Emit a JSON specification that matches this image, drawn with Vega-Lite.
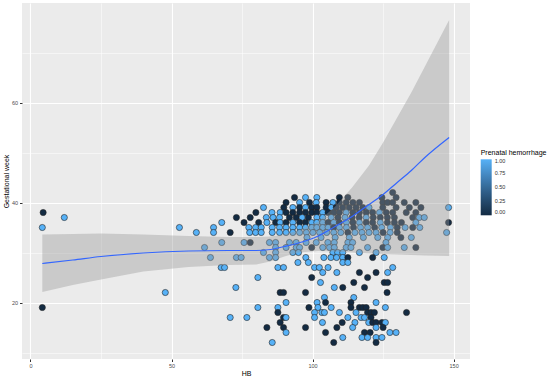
{
"$schema":"https://vega.github.io/schema/vega-lite/v6.json",
"width":448,"height":356,
"autosize":{"type":"none"},
"padding":{"left":22,"top":3,"right":84,"bottom":22},
"background":"white",
"config":{"font":"Liberation Sans","view":{"fill":"#EBEBEB","stroke":null},
"axis":{"domain":false,"labelColor":"#4D4D4D","labelFontSize":5.5,"tickColor":"#333333","gridColor":"#FFFFFF","titleFontWeight":"normal","titleFontSize":7,"titleColor":"#000000","labelFlush":false,"labelOverlap":false}},
"datasets":{
"fit":[
{"HB":4.2,"fit":27.8,"lo":22.1,"hi":33.6},{"HB":15,"fit":28.5,"lo":23.5,"hi":33.7},{"HB":25,"fit":29.2,"lo":24.6,"hi":33.8},{"HB":40,"fit":29.9,"lo":26.2,"hi":33.6},{"HB":56,"fit":30.3,"lo":27.1,"hi":33.3},{"HB":70,"fit":30.4,"lo":27.5,"hi":33.1},{"HB":80,"fit":30.4,"lo":27.6,"hi":33.1},{"HB":85,"fit":30.6,"lo":28.2,"hi":33.2},{"HB":90,"fit":31.2,"lo":29.2,"hi":33.6},{"HB":95,"fit":31.9,"lo":30.0,"hi":34.4},{"HB":102,"fit":33.3,"lo":30.3,"hi":36.2},{"HB":108,"fit":35.2,"lo":30.2,"hi":39.2},{"HB":114,"fit":37.2,"lo":30.0,"hi":43.0},{"HB":120,"fit":39.6,"lo":29.8,"hi":47.4},{"HB":125,"fit":41.6,"lo":29.7,"hi":52.0},{"HB":130,"fit":44.0,"lo":29.6,"hi":57.0},{"HB":135,"fit":46.4,"lo":29.5,"hi":62.0},{"HB":140,"fit":49.1,"lo":29.4,"hi":67.4},{"HB":148.4,"fit":53.0,"lo":29.3,"hi":76.5}
],
"pts":[
{"HB":4.5,"GW":38,"P":0},{"HB":4.2,"GW":35,"P":1},{"HB":12,"GW":37,"P":1},{"HB":47.8,"GW":22,"P":1},{"HB":4.2,"GW":19,"P":0},{"HB":52.8,"GW":35,"P":1},
{"HB":128.4,"GW":42,"P":0},
{"HB":93.6,"GW":41,"P":0},{"HB":97.5,"GW":41,"P":1},{"HB":101.5,"GW":41,"P":1},{"HB":109.5,"GW":41,"P":0},{"HB":112.5,"GW":41,"P":0},{"HB":124.6,"GW":41,"P":0},{"HB":129.6,"GW":41,"P":0},
{"HB":90.6,"GW":40,"P":0},{"HB":95.4,"GW":40,"P":1},{"HB":98.9,"GW":40,"P":0},{"HB":101.3,"GW":40,"P":1},{"HB":104.8,"GW":40,"P":0},{"HB":107.2,"GW":40,"P":1},{"HB":109.5,"GW":40,"P":0},{"HB":111.9,"GW":40,"P":0},{"HB":114.3,"GW":40,"P":0},{"HB":116.6,"GW":40,"P":0},{"HB":124.9,"GW":40,"P":0},{"HB":126.6,"GW":40,"P":0},{"HB":128.4,"GW":40,"P":0},{"HB":132.5,"GW":40,"P":0},{"HB":136.6,"GW":40,"P":0},
{"HB":82.6,"GW":39,"P":1},{"HB":89.8,"GW":39,"P":0},{"HB":93,"GW":39,"P":1},{"HB":95.4,"GW":39,"P":0},{"HB":97.5,"GW":39,"P":1},{"HB":99.7,"GW":39,"P":0},{"HB":101.5,"GW":39,"P":0},{"HB":104.8,"GW":39,"P":0},{"HB":106.6,"GW":39,"P":1},{"HB":108.4,"GW":39,"P":0},{"HB":110.7,"GW":39,"P":0},{"HB":113,"GW":39,"P":0},{"HB":115.4,"GW":39,"P":0},{"HB":117.8,"GW":39,"P":0},{"HB":120,"GW":39,"P":1},{"HB":124.9,"GW":39,"P":0},{"HB":129.6,"GW":39,"P":0},{"HB":134.3,"GW":39,"P":0},{"HB":138.4,"GW":39,"P":0},{"HB":148.2,"GW":39,"P":1},
{"HB":79.9,"GW":38,"P":0},{"HB":85.6,"GW":38,"P":1},{"HB":88.5,"GW":38,"P":1},{"HB":90.6,"GW":38,"P":0},{"HB":93,"GW":38,"P":0},{"HB":95.4,"GW":38,"P":0},{"HB":97.5,"GW":38,"P":0},{"HB":99.7,"GW":38,"P":0},{"HB":101.5,"GW":38,"P":0},{"HB":103.6,"GW":38,"P":1},{"HB":105.5,"GW":38,"P":0},{"HB":107.5,"GW":38,"P":0},{"HB":109.5,"GW":38,"P":0},{"HB":111.9,"GW":38,"P":1},{"HB":114.3,"GW":38,"P":0},{"HB":116.6,"GW":38,"P":0},{"HB":119,"GW":38,"P":0},{"HB":121.3,"GW":38,"P":0},{"HB":123.7,"GW":38,"P":1},{"HB":126.1,"GW":38,"P":0},{"HB":128.4,"GW":38,"P":0},{"HB":133.2,"GW":38,"P":0},{"HB":136.6,"GW":38,"P":0},
{"HB":73,"GW":37,"P":0},{"HB":77.9,"GW":37,"P":0},{"HB":83.6,"GW":37,"P":1},{"HB":86,"GW":37,"P":1},{"HB":88.3,"GW":37,"P":1},{"HB":91.8,"GW":37,"P":0},{"HB":94.2,"GW":37,"P":0},{"HB":96.3,"GW":37,"P":1},{"HB":98.5,"GW":37,"P":0},{"HB":101.5,"GW":37,"P":1},{"HB":103.6,"GW":37,"P":1},{"HB":106.6,"GW":37,"P":1},{"HB":109,"GW":37,"P":0},{"HB":111.5,"GW":37,"P":1},{"HB":114,"GW":37,"P":0},{"HB":116.5,"GW":37,"P":0},{"HB":119,"GW":37,"P":1},{"HB":121.5,"GW":37,"P":0},{"HB":124,"GW":37,"P":0},{"HB":126.5,"GW":37,"P":0},{"HB":129,"GW":37,"P":0},{"HB":135.5,"GW":37,"P":0},{"HB":137.8,"GW":37,"P":1},{"HB":139.6,"GW":37,"P":1},
{"HB":67.8,"GW":36,"P":1},{"HB":75.7,"GW":36,"P":0},{"HB":80.9,"GW":36,"P":0},{"HB":83.8,"GW":36,"P":1},{"HB":86.9,"GW":36,"P":0},{"HB":88.5,"GW":36,"P":1},{"HB":90.6,"GW":36,"P":0},{"HB":93,"GW":36,"P":1},{"HB":95.4,"GW":36,"P":0},{"HB":97.5,"GW":36,"P":0},{"HB":99.7,"GW":36,"P":1},{"HB":101.5,"GW":36,"P":1},{"HB":103.6,"GW":36,"P":1},{"HB":105.5,"GW":36,"P":0},{"HB":107.5,"GW":36,"P":1},{"HB":109.5,"GW":36,"P":0},{"HB":112,"GW":36,"P":1},{"HB":114.3,"GW":36,"P":0},{"HB":116.6,"GW":36,"P":1},{"HB":119,"GW":36,"P":0},{"HB":121.3,"GW":36,"P":0},{"HB":124,"GW":36,"P":1},{"HB":126.5,"GW":36,"P":0},{"HB":129,"GW":36,"P":0},{"HB":131.5,"GW":36,"P":0},{"HB":136.6,"GW":36,"P":1},{"HB":148.2,"GW":36,"P":0},
{"HB":64.9,"GW":35,"P":1},{"HB":77.4,"GW":35,"P":1},{"HB":79.8,"GW":35,"P":1},{"HB":81.8,"GW":35,"P":1},{"HB":85.7,"GW":35,"P":1},{"HB":88.3,"GW":35,"P":1},{"HB":90.6,"GW":35,"P":1},{"HB":93,"GW":35,"P":1},{"HB":95.4,"GW":35,"P":1},{"HB":97.5,"GW":35,"P":1},{"HB":99.7,"GW":35,"P":1},{"HB":101.5,"GW":35,"P":1},{"HB":103.6,"GW":35,"P":1},{"HB":105.5,"GW":35,"P":1},{"HB":107.5,"GW":35,"P":0},{"HB":109.5,"GW":35,"P":1},{"HB":112,"GW":35,"P":1},{"HB":114.5,"GW":35,"P":0},{"HB":117,"GW":35,"P":1},{"HB":119.5,"GW":35,"P":1},{"HB":122,"GW":35,"P":0},{"HB":124.5,"GW":35,"P":1},{"HB":127.6,"GW":35,"P":1},{"HB":130,"GW":35,"P":0},{"HB":132.8,"GW":35,"P":1},{"HB":135.5,"GW":35,"P":0},{"HB":138,"GW":35,"P":1},
{"HB":58.8,"GW":34,"P":1},{"HB":64.9,"GW":34,"P":1},{"HB":70.8,"GW":34,"P":0},{"HB":77.7,"GW":34,"P":1},{"HB":79.8,"GW":34,"P":1},{"HB":81.8,"GW":34,"P":1},{"HB":85.7,"GW":34,"P":1},{"HB":88.3,"GW":34,"P":1},{"HB":90.6,"GW":34,"P":1},{"HB":93,"GW":34,"P":1},{"HB":95.4,"GW":34,"P":1},{"HB":97.8,"GW":34,"P":1},{"HB":100.1,"GW":34,"P":1},{"HB":102.5,"GW":34,"P":1},{"HB":105,"GW":34,"P":1},{"HB":107.5,"GW":34,"P":1},{"HB":110,"GW":34,"P":1},{"HB":112.5,"GW":34,"P":0},{"HB":115,"GW":34,"P":1},{"HB":117.5,"GW":34,"P":1},{"HB":120,"GW":34,"P":1},{"HB":122.5,"GW":34,"P":1},{"HB":125,"GW":34,"P":0},{"HB":127.5,"GW":34,"P":1},{"HB":130,"GW":34,"P":0},{"HB":147.5,"GW":34,"P":1},
{"HB":98,"GW":33,"P":1},{"HB":103,"GW":33,"P":1},{"HB":108,"GW":33,"P":1},{"HB":113,"GW":33,"P":1},{"HB":118,"GW":33,"P":1},{"HB":123.1,"GW":33,"P":1},{"HB":126.6,"GW":33,"P":1},{"HB":131.3,"GW":33,"P":0},{"HB":135,"GW":33,"P":1},
{"HB":67.8,"GW":32,"P":1},{"HB":75.7,"GW":32,"P":1},{"HB":77.9,"GW":32,"P":0},{"HB":84.7,"GW":32,"P":1},{"HB":86.9,"GW":32,"P":1},{"HB":91.8,"GW":32,"P":1},{"HB":94.2,"GW":32,"P":1},{"HB":97.7,"GW":32,"P":1},{"HB":101.3,"GW":32,"P":1},{"HB":105.4,"GW":32,"P":1},{"HB":107.7,"GW":32,"P":1},{"HB":112.5,"GW":32,"P":1},{"HB":114.2,"GW":32,"P":1},{"HB":126,"GW":32,"P":1},
{"HB":61.7,"GW":31,"P":1},{"HB":86.9,"GW":31,"P":1},{"HB":90.6,"GW":31,"P":1},{"HB":94.2,"GW":31,"P":1},{"HB":95.4,"GW":31,"P":1},{"HB":99.7,"GW":31,"P":0},{"HB":103.6,"GW":31,"P":1},{"HB":106,"GW":31,"P":1},{"HB":107.7,"GW":31,"P":1},{"HB":111.9,"GW":31,"P":1},{"HB":113.6,"GW":31,"P":1},{"HB":119.5,"GW":31,"P":1},{"HB":124.9,"GW":31,"P":0},{"HB":126.6,"GW":31,"P":1},{"HB":132.5,"GW":31,"P":1},{"HB":136.6,"GW":31,"P":0},
{"HB":82.6,"GW":30,"P":1},{"HB":86.9,"GW":30,"P":1},{"HB":93,"GW":30,"P":1},{"HB":95,"GW":30,"P":1},{"HB":107.2,"GW":30,"P":1},{"HB":108.9,"GW":30,"P":1},{"HB":110.7,"GW":30,"P":1},{"HB":116.6,"GW":30,"P":1},{"HB":122.5,"GW":30,"P":1},
{"HB":63.8,"GW":29,"P":1},{"HB":73,"GW":29,"P":1},{"HB":74.7,"GW":29,"P":1},{"HB":84.7,"GW":29,"P":1},{"HB":86.9,"GW":29,"P":1},{"HB":97.6,"GW":29,"P":1},{"HB":104,"GW":29,"P":1},{"HB":106.5,"GW":29,"P":1},{"HB":108.5,"GW":29,"P":1},{"HB":110.7,"GW":29,"P":1},{"HB":112.5,"GW":29,"P":0},{"HB":121.3,"GW":29,"P":0},{"HB":125.4,"GW":29,"P":1},
{"HB":94.8,"GW":28,"P":1},{"HB":98.5,"GW":28,"P":1},{"HB":110.7,"GW":28,"P":1},{"HB":112.5,"GW":28,"P":1},
{"HB":67.6,"GW":27,"P":1},{"HB":68.8,"GW":27,"P":1},{"HB":87.7,"GW":27,"P":1},{"HB":89.7,"GW":27,"P":1},{"HB":100.7,"GW":27,"P":1},{"HB":102.4,"GW":27,"P":1},{"HB":105.5,"GW":27,"P":1},{"HB":128.4,"GW":27,"P":1},
{"HB":103.6,"GW":26,"P":1},{"HB":108.6,"GW":26,"P":1},{"HB":116.6,"GW":26,"P":0},{"HB":122.5,"GW":26,"P":0},{"HB":126.6,"GW":26,"P":1},
{"HB":80.6,"GW":25,"P":1},{"HB":99.7,"GW":25,"P":0},{"HB":119.5,"GW":25,"P":0},
{"HB":102.8,"GW":24,"P":1},{"HB":114.6,"GW":24,"P":0},{"HB":125.4,"GW":24,"P":0},{"HB":126.6,"GW":24,"P":0},
{"HB":72.8,"GW":23,"P":1},{"HB":107.7,"GW":23,"P":1},{"HB":110.7,"GW":23,"P":0},{"HB":118.4,"GW":23,"P":0},
{"HB":88.5,"GW":22,"P":0},{"HB":89.7,"GW":22,"P":0},{"HB":97.5,"GW":22,"P":0},{"HB":126.4,"GW":22,"P":0},
{"HB":104.2,"GW":21,"P":1},{"HB":114.6,"GW":21,"P":1},
{"HB":90.6,"GW":20,"P":1},{"HB":101.6,"GW":20,"P":1},{"HB":104.6,"GW":20,"P":0},{"HB":113.6,"GW":20,"P":0},{"HB":122.5,"GW":20,"P":1},
{"HB":80.6,"GW":19,"P":1},{"HB":87.7,"GW":19,"P":1},{"HB":98.7,"GW":19,"P":0},{"HB":101.9,"GW":19,"P":1},{"HB":106.6,"GW":19,"P":1},{"HB":113.6,"GW":19,"P":0},{"HB":116.6,"GW":19,"P":0},{"HB":117.8,"GW":19,"P":0},{"HB":119,"GW":19,"P":0},{"HB":125.8,"GW":19,"P":1},
{"HB":87.7,"GW":18,"P":0},{"HB":100.7,"GW":18,"P":1},{"HB":103.3,"GW":18,"P":1},{"HB":104.2,"GW":18,"P":1},{"HB":109.5,"GW":18,"P":1},{"HB":115.4,"GW":18,"P":1},{"HB":119.5,"GW":18,"P":0},{"HB":120.7,"GW":18,"P":0},{"HB":121.9,"GW":18,"P":0},{"HB":133.3,"GW":18,"P":0},
{"HB":70.8,"GW":17,"P":1},{"HB":76.7,"GW":17,"P":1},{"HB":89.7,"GW":17,"P":0},{"HB":90.6,"GW":17,"P":1},{"HB":100.7,"GW":17,"P":1},{"HB":112.5,"GW":17,"P":1},{"HB":117.2,"GW":17,"P":1},{"HB":118.4,"GW":17,"P":1},{"HB":120.7,"GW":17,"P":0},
{"HB":88.5,"GW":16,"P":0},{"HB":103.5,"GW":16,"P":1},{"HB":110.5,"GW":16,"P":0},{"HB":115,"GW":16,"P":1},{"HB":119.9,"GW":16,"P":1},{"HB":121.3,"GW":16,"P":0},{"HB":122.5,"GW":16,"P":0},{"HB":124.6,"GW":16,"P":0},{"HB":125.8,"GW":16,"P":1},
{"HB":83.8,"GW":15,"P":0},{"HB":89.7,"GW":15,"P":0},{"HB":97.5,"GW":15,"P":0},{"HB":108.6,"GW":15,"P":0},{"HB":114.2,"GW":15,"P":1},{"HB":122.5,"GW":15,"P":1},{"HB":125,"GW":15,"P":0},
{"HB":90.6,"GW":14,"P":1},{"HB":104.6,"GW":14,"P":0},{"HB":118.4,"GW":14,"P":0},{"HB":120.4,"GW":14,"P":0},{"HB":127.4,"GW":14,"P":1},{"HB":129.6,"GW":14,"P":1},
{"HB":110.7,"GW":13,"P":1},{"HB":117.5,"GW":13,"P":1},{"HB":119.5,"GW":13,"P":1},{"HB":122.5,"GW":13,"P":1},{"HB":124.6,"GW":13,"P":1},
{"HB":85.7,"GW":12,"P":1},{"HB":107.5,"GW":12,"P":0},{"HB":122.5,"GW":12,"P":0}
]},
"layer":[
{"data":{"name":"pts"},
"mark":{"type":"point","filled":true,"shape":"circle","size":38,"stroke":"#222222","strokeWidth":0.6,"opacity":1},
"encoding":{
"x":{"field":"HB","type":"quantitative","title":"HB","scale":{"domain":[-3.0,155.8],"nice":false,"zero":false},
"axis":{"values":[0,25,50,75,100,125,150],"format":"d","labelExpr":"datum.value % 50 === 0 ? datum.label : ''",
"tickSize":{"condition":{"test":"datum.value % 50 === 0","value":2.5},"value":0},
"gridWidth":{"condition":{"test":"datum.value % 50 === 0","value":1.1},"value":0.5},
"labelPadding":1.5,"titleY":14.5,"titleBaseline":"middle","titleAlign":"center"}},
"y":{"field":"GW","type":"quantitative","title":"Gestational week","scale":{"domain":[8.7,79.9],"nice":false,"zero":false},
"axis":{"values":[10,20,30,40,50,60,70],"format":"d","labelExpr":"datum.value % 20 === 0 ? datum.label : ''",
"tickSize":{"condition":{"test":"datum.value % 20 === 0","value":2.5},"value":0},
"gridWidth":{"condition":{"test":"datum.value % 20 === 0","value":1.1},"value":0.5},
"labelPadding":2,"titleX":-15.5,"titleY":178,"titleAngle":-90,"titleBaseline":"middle","titleAlign":"center"}},
"fill":{"field":"P","type":"quantitative","title":"Prenatal hemorrhage","scale":{"type":"linear","domain":[0,1],"range":["#132B43","#56B1F7"]},
"legend":{"orient":"none","legendX":458.7,"legendY":146.3,"direction":"vertical","padding":0,"gradientLength":56,"gradientThickness":11,"values":[0,0.25,0.5,0.75,1],"format":".2f","labelFontSize":5.5,"labelColor":"#333333","labelOffset":3,"labelOverlap":false,"titleFontSize":7,"titleFontWeight":"normal","titleColor":"#000000","titlePadding":3,"gradientStrokeWidth":0,"titleLimit":200}}
}},
{"data":{"name":"fit"},
"mark":{"type":"area","color":"#999999","opacity":0.4},
"encoding":{"x":{"field":"HB","type":"quantitative","title":"HB"},"y":{"field":"lo","type":"quantitative","title":"Gestational week"},"y2":{"field":"hi"}}},
{"data":{"name":"fit"},
"mark":{"type":"line","color":"#3366FF","strokeWidth":1.2,"interpolate":"monotone"},
"encoding":{"x":{"field":"HB","type":"quantitative","title":"HB"},"y":{"field":"fit","type":"quantitative","title":"Gestational week"}}}
]
}
